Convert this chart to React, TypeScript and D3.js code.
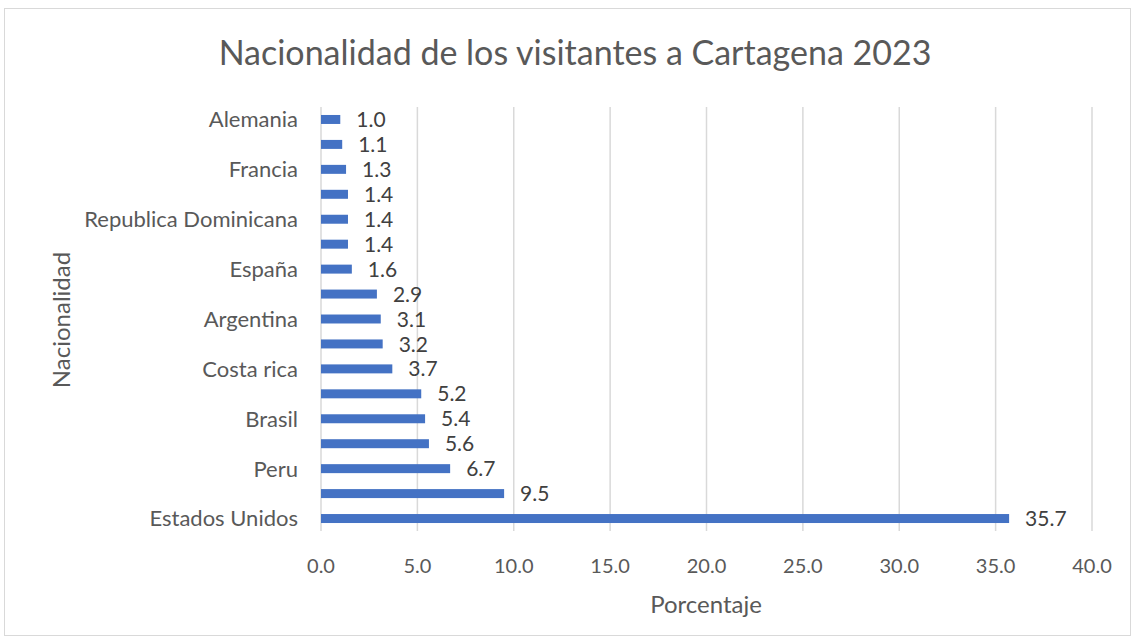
import { scaleBand, scaleLinear } from "d3";
import { FC } from "react";

// top to bottom, as drawn; Excel only labels every other category
const categories = [
  "Alemania", "", "Francia", "", "Republica Dominicana", "", "España", "",
  "Argentina", "", "Costa rica", "", "Brasil", "", "Peru", "", "Estados Unidos"
];
const values = [1.0, 1.1, 1.3, 1.4, 1.4, 1.4, 1.6, 2.9, 3.1, 3.2, 3.7, 5.2, 5.4, 5.6, 6.7, 9.5, 35.7];
const xTicks = [0, 5, 10, 15, 20, 25, 30, 35, 40];

const W = 1134;
const H = 643;
const FONT = "Lato, 'Open Sans', sans-serif";

const App: FC = () => {
  const left = 321;
  const right = 1092;
  const top = 107;
  const bottom = 531;

  const x = scaleLinear().domain([0, 40]).range([left, right]);
  const y = scaleBand<number>()
    .domain(categories.map((_, i) => i))
    .range([top, bottom])
    .paddingInner(0.64)
    .paddingOuter(0.32);

  return (
    <svg width={W} height={H} style={{ position: "absolute", left: 0, top: 0 }}>
      <rect x={0} y={0} width={W} height={H} fill="#fff" />
      <rect x={4.5} y={8.5} width={1126} height={627} fill="#fff" stroke="#d9d9d9" />
      <text x={575} y={65} textAnchor="middle" fontFamily={FONT} fontSize={34} fill="#595959">
        Nacionalidad de los visitantes a Cartagena 2023
      </text>

      {/* gridlines */}
      {xTicks.map((t) => (
        <line key={t} x1={x(t)} x2={x(t)} y1={top} y2={bottom} stroke="#d9d9d9" strokeWidth={1.5} />
      ))}

      {/* bars */}
      {values.map((v, i) => (
        <rect key={i} x={x(0)} y={y(i)!} width={x(v) - x(0)} height={y.bandwidth()} fill="#4472c4" />
      ))}

      {/* data labels */}
      {values.map((v, i) => (
        <text key={i} x={x(v) + 16} y={y(i)! + y.bandwidth() / 2} dy="0.36em"
          fontFamily={FONT} fontSize={21} fill="#404040">
          {v.toFixed(1)}
        </text>
      ))}

      {/* category labels */}
      {categories.map((c, i) => c && (
        <text key={i} x={298} y={y(i)! + y.bandwidth() / 2} dy="0.36em" textAnchor="end"
          fontFamily={FONT} fontSize={22} fill="#595959">
          {c}
        </text>
      ))}

      {/* x tick labels */}
      {xTicks.map((t) => (
        <text key={t} x={x(t)} y={566} dy="0.36em" textAnchor="middle"
          fontFamily={FONT} fontSize={20} fill="#595959">
          {t.toFixed(1)}
        </text>
      ))}

      <text x={706} y={604} dy="0.36em" textAnchor="middle" fontFamily={FONT} fontSize={24} fill="#595959">
        Porcentaje
      </text>
      <text transform={`translate(61,320) rotate(-90)`} dy="0.36em" textAnchor="middle"
        fontFamily={FONT} fontSize={24} fill="#595959">
        Nacionalidad
      </text>
    </svg>
  );
};

export default App;
